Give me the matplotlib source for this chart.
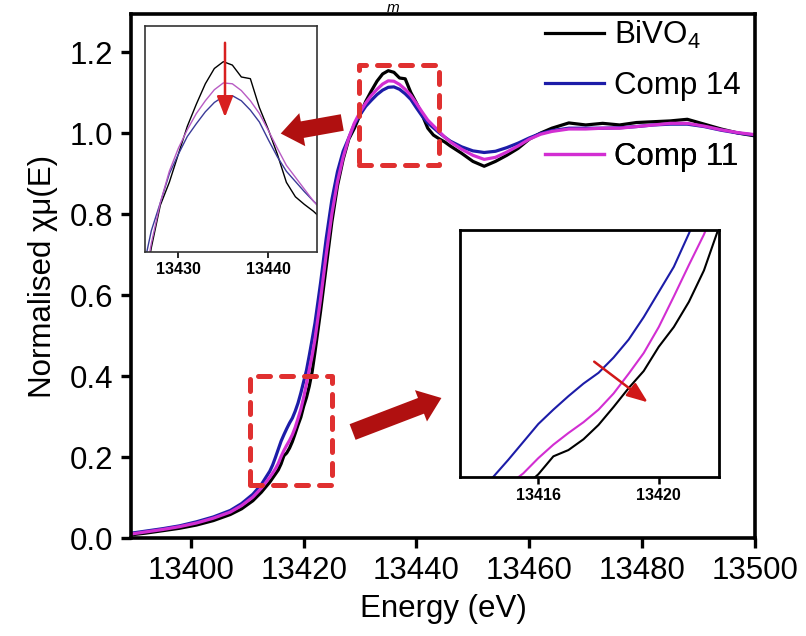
import matplotlib
matplotlib.use("Agg")
import matplotlib.pyplot as plt
from matplotlib.patches import Rectangle, FancyArrowPatch
from matplotlib.lines import Line2D

plt.rcParams['font.family'] = ['Liberation Sans', 'DejaVu Sans']
plt.rcParams['mathtext.fontset'] = 'custom'
plt.rcParams['mathtext.rm'] = 'Liberation Sans'

# energy grid (eV)
energy = [13389.5, 13392, 13395, 13398, 13401, 13404, 13407, 13409, 13411, 13412.5,
          13414, 13414.5, 13415, 13415.5, 13416, 13416.5, 13417, 13417.5, 13418, 13418.5,
          13419, 13419.5, 13420, 13420.5, 13421, 13421.5, 13422, 13423, 13424, 13425,
          13426, 13427, 13428, 13429, 13430, 13431, 13432, 13433, 13434, 13435,
          13436, 13437, 13438, 13439, 13440, 13441, 13442, 13443, 13444, 13445,
          13446, 13448, 13450, 13452, 13454, 13456, 13458, 13460, 13462, 13464,
          13467, 13470, 13473, 13476, 13479, 13482, 13485, 13488, 13491, 13494,
          13497, 13500]

bivo4 = [0.008, 0.012, 0.018, 0.024, 0.032, 0.043, 0.058, 0.072, 0.092, 0.113,
         0.138, 0.148, 0.158, 0.168, 0.183, 0.203, 0.210, 0.222, 0.238, 0.258,
         0.279, 0.298, 0.325, 0.347, 0.375, 0.410, 0.458, 0.56, 0.67, 0.78,
         0.87, 0.935, 0.985, 1.012, 1.045, 1.078, 1.104, 1.128, 1.146, 1.154,
         1.150, 1.136, 1.134, 1.100, 1.074, 1.045, 1.012, 0.995, 0.986, 0.978,
         0.968, 0.950, 0.930, 0.918, 0.930, 0.945, 0.962, 0.985, 1.000, 1.012,
         1.025, 1.020, 1.024, 1.020, 1.026, 1.028, 1.030, 1.034, 1.022, 1.010,
         1.000, 0.993]

comp14 = [0.012, 0.017, 0.023, 0.030, 0.040, 0.052, 0.068, 0.085, 0.108, 0.132,
          0.165, 0.180, 0.199, 0.219, 0.239, 0.255, 0.270, 0.284, 0.296, 0.313,
          0.333, 0.358, 0.386, 0.414, 0.451, 0.490, 0.530, 0.63, 0.74, 0.835,
          0.905, 0.955, 0.988, 1.022, 1.045, 1.066, 1.081, 1.095, 1.106, 1.113,
          1.114, 1.108, 1.097, 1.083, 1.062, 1.042, 1.025, 1.013, 1.001, 0.990,
          0.980, 0.966, 0.956, 0.952, 0.955, 0.964, 0.975, 0.988, 0.999, 1.006,
          1.012, 1.012, 1.012, 1.013, 1.016, 1.020, 1.022, 1.022, 1.016, 1.007,
          1.000, 0.995]

comp11 = [0.010, 0.015, 0.021, 0.028, 0.037, 0.049, 0.064, 0.080, 0.101, 0.123,
          0.150, 0.160, 0.171, 0.184, 0.201, 0.216, 0.229, 0.241, 0.255, 0.273,
          0.295, 0.318, 0.347, 0.381, 0.416, 0.450, 0.490, 0.59, 0.70, 0.80,
          0.88, 0.94, 0.988, 1.025, 1.052, 1.074, 1.093, 1.108, 1.121, 1.129,
          1.128, 1.120, 1.108, 1.093, 1.073, 1.052, 1.032, 1.018, 1.004, 0.990,
          0.978, 0.960, 0.945, 0.935, 0.940, 0.953, 0.968, 0.985, 0.997, 1.004,
          1.010, 1.010, 1.012, 1.012, 1.016, 1.020, 1.024, 1.024, 1.017, 1.008,
          1.001, 0.996]

labels = ['BiVO$_4$', 'Comp 14', 'Comp 11']
colors = ['black', '#1c1ca8', '#d22ed2']
series = [bivo4, comp14, comp11]

x_ticks = [13400, 13420, 13440, 13460, 13480, 13500]
y_ticks = [0.0, 0.2, 0.4, 0.6, 0.8, 1.0, 1.2]
inset1_ticks = [13430, 13440]
inset2_ticks = [13416, 13420]

W, H = 806, 636
fig = plt.figure(figsize=(W / 100, H / 100), dpi=100)
ax = fig.add_axes([131 / W, 98 / H, 624 / W, 524 / H])

for y, c in zip(series, colors):
    ax.plot(energy, y, color=c, lw=2.3)

ax.set_xlim(13389.4, 13500)
ax.set_ylim(0, 1.294)
ax.set_xticks(x_ticks)
ax.set_yticks(y_ticks)
ax.set_yticklabels(['%.1f' % v for v in y_ticks])
ax.tick_params(direction='out', length=7, width=2.4, labelsize=22.5, pad=6)
for s in ax.spines.values():
    s.set_linewidth(2.6)
ax.set_xlabel('Energy (eV)', fontsize=22.5, labelpad=6)
ax.set_ylabel('Normalised χμ(E)', fontsize=22.5, labelpad=8)

# legend, rows placed where they sit in the picture
rows = [35, 86, 157]
for lab, c, r in zip(labels, colors, rows):
    lg = ax.legend([Line2D([], [], color=c, lw=2.3)], [lab], loc='center left',
                   bbox_to_anchor=(545 / W, 1 - r / H), bbox_transform=fig.transFigure,
                   frameon=False, fontsize=22.5, handlelength=1.9, handletextpad=0.3,
                   borderpad=0, borderaxespad=0)
    ax.add_artist(lg)

# dashed boxes
red = '#e03030'
for (x0, x1, y0, y1) in [(13429.8, 13444.0, 0.921, 1.168), (13410.5, 13425.0, 0.13, 0.40)]:
    ax.add_patch(Rectangle((x0, y0), x1 - x0, y1 - y0, fill=False, edgecolor=red,
                           lw=3.6, linestyle=(0, (2.4, 2.2)), capstyle='round',
                           joinstyle='round', zorder=5))

# inset 1: peak
ins1 = fig.add_axes([145 / W, 1 - 252 / H, 172 / W, 226 / H])
for y, c in zip(series, ['black', '#3a3a98', '#b85cc4']):
    ins1.plot(energy, y, color=c, lw=1.0)
ins1.set_xlim(13426.3, 13445.4)
ins1.set_ylim(0.93, 1.196)
ins1.set_xticks(inset1_ticks)
ins1.set_yticks([])
ins1.tick_params(direction='out', length=4, width=1.2, labelsize=11.5, pad=3)
for t in ins1.get_xticklabels():
    t.set_fontweight('bold')
for s in ins1.spines.values():
    s.set_linewidth(1.2)
    s.set_color('#333333')

# inset 2: edge
ins2 = fig.add_axes([460 / W, 1 - 477 / H, 259 / W, 247 / H])
for y, c in zip(series, ['black', '#1c1ca8', '#d22ed2']):
    ins2.plot(energy, y, color=c, lw=1.5)
ins2.set_xlim(13413.4, 13422.0)
ins2.set_ylim(0.18, 0.455)
ins2.set_xticks(inset2_ticks)
ins2.set_yticks([])
ins2.tick_params(direction='out', length=5, width=1.8, labelsize=11.5, pad=3)
for t in ins2.get_xticklabels():
    t.set_fontweight('bold')
for s in ins2.spines.values():
    s.set_linewidth(2.0)


def px(x, y):
    return (x / W, 1 - y / H)


# big block arrows
dark = '#b01010'
for a, b in [((345, 122), (278, 134)), ((350, 433), (444, 397))]:
    fig.add_artist(FancyArrowPatch(px(*a), px(*b), transform=fig.transFigure,
                                   arrowstyle='simple,head_length=1.5,head_width=2.3,tail_width=1.15',
                                   mutation_scale=10.5, color=dark, lw=0))

# thin arrows in insets
for a, b, c in [((225, 40), (225, 120), '#d82020'), ((592, 360), (650, 404), '#d01818')]:
    fig.add_artist(FancyArrowPatch(px(*a), px(*b), transform=fig.transFigure,
                                   arrowstyle='-|>,head_length=0.9,head_width=0.35',
                                   mutation_scale=14, color=c, lw=1.8))

fig.text(393 / W, 1 - 1 / H, 'm', style='italic', fontsize=11, ha='center', va='top')

fig.savefig('out.png', dpi=100)
